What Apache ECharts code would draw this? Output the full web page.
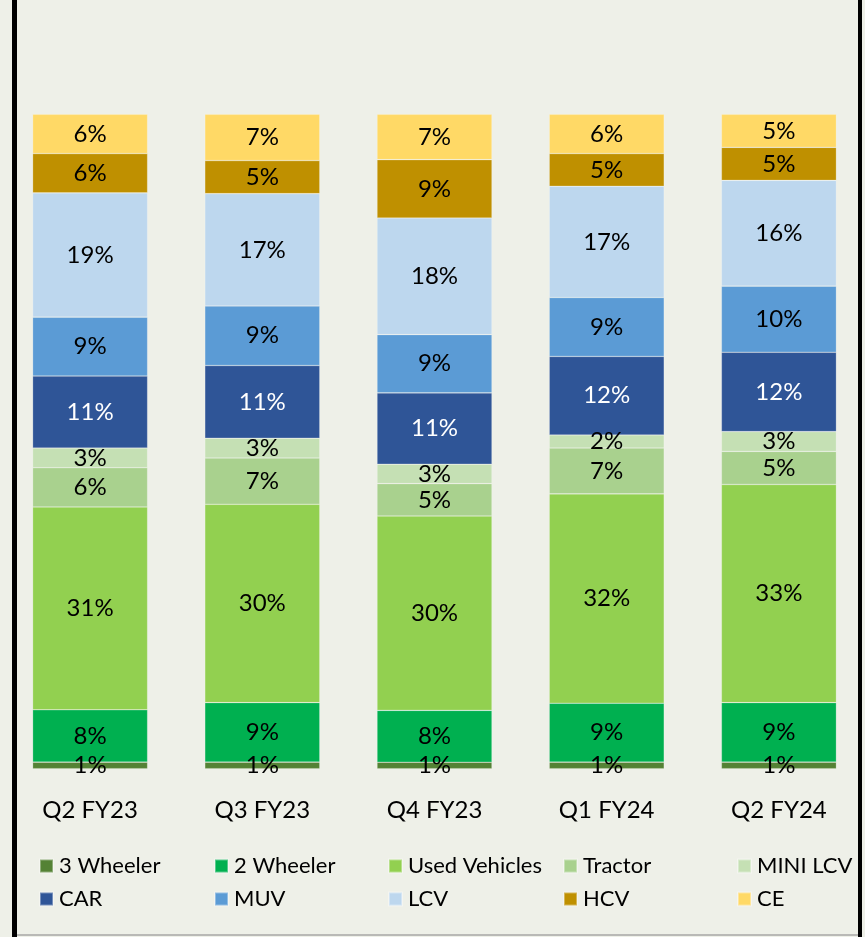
<!DOCTYPE html>
<html>
<head>
<meta charset="utf-8">
<script src="https://cdn.jsdelivr.net/npm/echarts@6/dist/echarts.min.js"></script>
<style>
  html, body { margin: 0; padding: 0; background: #eef0e8; }
  #chart { width: 865px; height: 937px; }
</style>
</head>
<body>
<div id="chart"></div>
<script>
// Portfolio mix by vehicle segment, share of AUM per quarter (%)
const categories = ['Q2 FY23', 'Q3 FY23', 'Q4 FY23', 'Q1 FY24', 'Q2 FY24'];

const threeWheeler = [1, 1, 1, 1, 1];
const twoWheeler   = [8, 9, 8, 9, 9];
const usedVehicles = [31, 30, 30, 32, 33];
const tractor      = [6, 7, 5, 7, 5];
const miniLcv      = [3, 3, 3, 2, 3];
const car          = [11, 11, 11, 12, 12];
const muv          = [9, 9, 9, 9, 10];
const lcv          = [19, 17, 18, 17, 16];
const hcv          = [6, 5, 9, 5, 5];
const ce           = [6, 7, 7, 6, 5];

// bottom-to-top stacking order
const segments = [
  { name: '3 Wheeler',     values: threeWheeler, color: '#548235', label: '#000000' },
  { name: '2 Wheeler',     values: twoWheeler,   color: '#00b050', label: '#000000' },
  { name: 'Used Vehicles', values: usedVehicles, color: '#92d050', label: '#000000' },
  { name: 'Tractor',       values: tractor,      color: '#a9d18e', label: '#000000' },
  { name: 'MINI LCV',      values: miniLcv,      color: '#c5e0b4', label: '#000000' },
  { name: 'CAR',           values: car,          color: '#2f5597', label: '#ffffff' },
  { name: 'MUV',           values: muv,          color: '#5b9bd5', label: '#000000' },
  { name: 'LCV',           values: lcv,          color: '#bdd7ee', label: '#000000' },
  { name: 'HCV',           values: hcv,          color: '#bf9000', label: '#000000' },
  { name: 'CE',            values: ce,           color: '#ffd966', label: '#000000' }
];

// each column is a 100% stack: scale by the column total
const totals = categories.map((_, i) => segments.reduce((s, seg) => s + seg.values[i], 0));

const FONT = 'Lato';

const series = segments.map(seg => ({
  name: seg.name,
  type: 'bar',
  stack: 'mix',
  barWidth: 115,
  itemStyle: { color: seg.color, borderColor: 'rgba(255,255,255,0.35)', borderWidth: 0.6 },
  label: {
    show: true,
    position: 'inside',
    color: seg.label,
    fontFamily: FONT,
    fontSize: 24,
    formatter: p => seg.values[p.dataIndex] + '%'
  },
  data: seg.values.map((v, i) => v / totals[i] * 100)
}));

// legend laid out in five columns, two rows
const legendColumns = [
  ['3 Wheeler', 'CAR'],
  ['2 Wheeler', 'MUV'],
  ['Used Vehicles', 'LCV'],
  ['Tractor', 'HCV'],
  ['MINI LCV', 'CE']
];
const legendLeft = [39, 214, 388, 563, 737];

const legends = legendColumns.map((names, c) => ({
  data: names,
  orient: 'vertical',
  left: legendLeft[c],
  top: 855,
  padding: 0,
  icon: 'rect',
  itemWidth: 13,
  itemHeight: 13,
  itemGap: 11,
  selectedMode: false,
  textStyle: { fontFamily: FONT, fontSize: 22, color: '#000000', lineHeight: 22, padding: [0, 0, 0, 1] }
}));

const chart = echarts.init(document.getElementById('chart'), null, { renderer: 'canvas' });
chart.setOption({
  backgroundColor: '#eef0e8',
  animation: false,
  grid: { left: 4, width: 865, top: 114.3, height: 654.4, containLabel: false },
  xAxis: {
    type: 'category',
    data: categories,
    axisLine: { show: false },
    axisTick: { show: false },
    axisLabel: { fontFamily: FONT, fontSize: 24, color: '#000000', margin: 30, lineHeight: 24 }
  },
  yAxis: { type: 'value', min: 0, max: 100, show: false, splitLine: { show: false } },
  legend: legends,
  series: series,
  graphic: [
    // frame lines
    { type: 'rect', shape: { x: 12, y: 0, width: 5, height: 937 }, style: { fill: '#000000' }, silent: true },
    { type: 'rect', shape: { x: 858, y: 0, width: 4, height: 937 }, style: { fill: '#000000' }, silent: true },
    { type: 'rect', shape: { x: 17, y: 934, width: 841, height: 2 }, style: { fill: '#b9b9b6' }, silent: true }
  ]
});
</script>
</body>
</html>
